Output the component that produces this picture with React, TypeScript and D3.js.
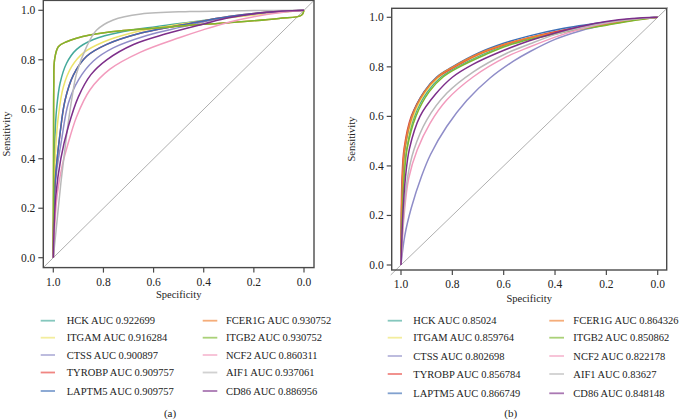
import * as d3 from 'd3';

// ROC curves: [specificity, sensitivity]
const genes = ["HCK", "ITGAM", "CTSS", "TYROBP", "LAPTM5", "FCER1G", "ITGB2", "NCF2", "AIF1", "CD86"];
const colors = ["#44a99a", "#ece36a", "#8f8dc8", "#e8453f", "#3d6eb5", "#f08132", "#7cb82f", "#f29bbd", "#b9b9b9", "#7d2f8a"];
const aucA = ["0.922699", "0.916284", "0.900897", "0.909757", "0.909757", "0.930752", "0.930752", "0.860311", "0.937061", "0.886956"];
const aucB = ["0.85024", "0.859764", "0.802698", "0.856784", "0.866749", "0.864326", "0.850862", "0.822178", "0.83627", "0.848148"];
const ticks = [1.0, 0.8, 0.6, 0.4, 0.2, 0.0];

// panel (a)
const hckA = [[1, 0], [0.998, 0.3], [0.993, 0.5], [0.987, 0.6], [0.973, 0.705], [0.947, 0.786], [0.907, 0.842], [0.84, 0.882], [0.72, 0.914], [0.59, 0.934], [0.455, 0.952], [0.3, 0.972], [0.15, 0.988], [0, 1]];
const itgamA = [[1, 0], [0.996, 0.3], [0.99, 0.45], [0.98, 0.57], [0.96, 0.69], [0.927, 0.772], [0.88, 0.828], [0.8, 0.872], [0.68, 0.91], [0.55, 0.935], [0.4, 0.958], [0.3, 0.97], [0.15, 0.986], [0, 1]];
const ctssA = [[1, 0], [0.992, 0.3], [0.967, 0.476], [0.94, 0.624], [0.9, 0.718], [0.84, 0.795], [0.761, 0.848], [0.627, 0.898], [0.5, 0.93], [0.4, 0.953], [0.3, 0.972], [0.15, 0.99], [0, 1]];
const tyrobpA = [[1, 0], [0.993, 0.3], [0.973, 0.503], [0.953, 0.637], [0.92, 0.738], [0.867, 0.814], [0.787, 0.862], [0.654, 0.907], [0.455, 0.947], [0.3, 0.975], [0.15, 0.992], [0, 1]];
const laptm5A = [[1, 0], [0.993, 0.3], [0.973, 0.503], [0.953, 0.637], [0.92, 0.738], [0.867, 0.814], [0.787, 0.862], [0.654, 0.907], [0.455, 0.947], [0.3, 0.975], [0.15, 0.992], [0, 1]];
const fcer1gA = [[1, 0], [0.999, 0.4], [0.998, 0.7], [0.995, 0.8], [0.98, 0.853], [0.947, 0.873], [0.854, 0.9], [0.721, 0.918], [0.588, 0.928], [0.455, 0.94], [0.3, 0.95], [0.1, 0.967], [0.01, 0.98], [0, 1]];
const itgb2A = [[1, 0], [0.999, 0.4], [0.998, 0.7], [0.995, 0.8], [0.98, 0.853], [0.947, 0.873], [0.854, 0.9], [0.721, 0.918], [0.588, 0.928], [0.455, 0.94], [0.3, 0.95], [0.1, 0.967], [0.01, 0.98], [0, 1]];
const ncf2A = [[1, 0], [0.985, 0.25], [0.965, 0.37], [0.947, 0.44], [0.907, 0.57], [0.854, 0.678], [0.774, 0.762], [0.654, 0.83], [0.495, 0.89], [0.4, 0.922], [0.3, 0.952], [0.2, 0.974], [0.1, 0.99], [0, 1]];
const aif1A = [[1, 0], [0.985, 0.15], [0.97, 0.3], [0.954, 0.435], [0.947, 0.495], [0.927, 0.637], [0.907, 0.745], [0.867, 0.853], [0.827, 0.92], [0.761, 0.961], [0.65, 0.985], [0.455, 0.995], [0.2, 0.999], [0, 1]];
const cd86A = [[1, 0], [0.99, 0.25], [0.97, 0.4], [0.94, 0.53], [0.9, 0.65], [0.85, 0.74], [0.787, 0.8], [0.68, 0.862], [0.55, 0.905], [0.4, 0.945], [0.3, 0.97], [0.15, 0.992], [0, 1]];

// panel (b)
const hckB = [[1, 0], [0.996, 0.2], [0.99, 0.35], [0.979, 0.47], [0.948, 0.6], [0.897, 0.7], [0.843, 0.76], [0.782, 0.8], [0.68, 0.852], [0.6, 0.885], [0.5, 0.915], [0.38, 0.945], [0.2, 0.977], [0.1, 0.991], [0, 1]];
const itgamB = [[1, 0], [0.997, 0.2], [0.992, 0.35], [0.982, 0.47], [0.952, 0.6], [0.903, 0.7], [0.85, 0.76], [0.79, 0.8], [0.69, 0.852], [0.6, 0.888], [0.5, 0.918], [0.38, 0.945], [0.2, 0.975], [0.1, 0.99], [0, 1]];
const ctssB = [[1, 0], [0.985, 0.12], [0.96, 0.23], [0.92, 0.358], [0.885, 0.446], [0.822, 0.559], [0.744, 0.664], [0.653, 0.755], [0.562, 0.823], [0.497, 0.862], [0.4, 0.911], [0.3, 0.946], [0.2, 0.971], [0.1, 0.991], [0, 1]];
const tyrobpB = [[1, 0], [0.999, 0.2], [0.996, 0.35], [0.988, 0.47], [0.96, 0.6], [0.91, 0.698], [0.86, 0.756], [0.8, 0.795], [0.7, 0.85], [0.6, 0.888], [0.5, 0.918], [0.38, 0.946], [0.2, 0.975], [0.1, 0.99], [0, 1]];
const laptm5B = [[1, 0], [0.998, 0.2], [0.994, 0.35], [0.985, 0.47], [0.958, 0.6], [0.91, 0.7], [0.86, 0.76], [0.8, 0.8], [0.7, 0.855], [0.6, 0.895], [0.5, 0.925], [0.38, 0.953], [0.2, 0.981], [0.1, 0.993], [0, 1]];
const fcer1gB = [[1, 0], [0.998, 0.2], [0.994, 0.35], [0.986, 0.47], [0.957, 0.6], [0.908, 0.7], [0.857, 0.76], [0.797, 0.8], [0.7, 0.852], [0.6, 0.89], [0.5, 0.918], [0.38, 0.94], [0.2, 0.97], [0.1, 0.987], [0, 1]];
const itgb2B = [[1, 0], [0.995, 0.2], [0.988, 0.35], [0.976, 0.47], [0.942, 0.6], [0.89, 0.7], [0.835, 0.76], [0.772, 0.8], [0.67, 0.85], [0.6, 0.88], [0.5, 0.91], [0.38, 0.937], [0.2, 0.968], [0.1, 0.986], [0, 1]];
const ncf2B = [[1, 0], [0.988, 0.2], [0.97, 0.35], [0.937, 0.464], [0.887, 0.572], [0.822, 0.666], [0.718, 0.76], [0.588, 0.841], [0.497, 0.881], [0.4, 0.92], [0.3, 0.953], [0.2, 0.977], [0.1, 0.992], [0, 1]];
const aif1B = [[1, 0], [0.99, 0.2], [0.975, 0.35], [0.95, 0.464], [0.9, 0.585], [0.822, 0.693], [0.718, 0.78], [0.588, 0.855], [0.497, 0.893], [0.4, 0.93], [0.3, 0.958], [0.2, 0.978], [0.1, 0.992], [0, 1]];
const cd86B = [[1, 0], [0.993, 0.2], [0.983, 0.35], [0.967, 0.47], [0.926, 0.6], [0.865, 0.69], [0.8, 0.758], [0.72, 0.81], [0.62, 0.858], [0.5, 0.905], [0.4, 0.937], [0.3, 0.963], [0.2, 0.983], [0.1, 0.995], [0, 1]];

const curvesA = [hckA, itgamA, ctssA, tyrobpA, laptm5A, fcer1gA, itgb2A, ncf2A, aif1A, cd86A];
const curvesB = [hckB, itgamB, ctssB, tyrobpB, laptm5B, fcer1gB, itgb2B, ncf2B, aif1B, cd86B];

const font = "'Liberation Serif', 'DejaVu Serif', serif";

const Panel = ({ box, xr, yr, curves, aucs, legend, label, ylabX, xlabY }: any) => {
	const x = d3.scaleLinear().domain([1, 0]).range(xr);
	const y = d3.scaleLinear().domain([0, 1]).range(yr);
	const line = d3.line<number[]>()
		.x(d => x(d[0]))
		.y(d => y(d[1]))
		.curve(d3.curveCatmullRom.alpha(0.5));
	return (
		<g fontFamily={font} fill="#222">
			<defs>
				<clipPath id={"clip" + label}>
					<rect x={box[0]} y={box[1]} width={box[2] - box[0]} height={box[3] - box[1]} />
				</clipPath>
			</defs>
			<g clipPath={`url(#clip${label})`}>
				<line x1={x(1.04)} y1={y(-0.04)} x2={x(-0.04)} y2={y(1.04)} stroke="#9a9a9a" strokeWidth={0.8} />
				{curves.map((c: number[][], i: number) => (
					<path key={genes[i]} d={line(c) as string} fill="none" stroke={colors[i]} strokeWidth={1.5} />
				))}
			</g>
			<rect x={box[0]} y={box[1]} width={box[2] - box[0]} height={box[3] - box[1]} fill="none" stroke="#4a4a4a" strokeWidth={1.4} />
			{ticks.map(t => (
				<g key={"x" + t}>
					<line x1={x(t)} x2={x(t)} y1={box[3]} y2={box[3] + 5} stroke="#4a4a4a" strokeWidth={1.2} />
					<text x={x(t)} y={box[3] + 18} textAnchor="middle" fontSize={11.5}>{t.toFixed(1)}</text>
				</g>
			))}
			{ticks.map(t => (
				<g key={"y" + t}>
					<line x1={box[0] - 5} x2={box[0]} y1={y(t)} y2={y(t)} stroke="#4a4a4a" strokeWidth={1.2} />
					<text x={box[0] - 8} y={y(t)} dy="0.35em" textAnchor="end" fontSize={11.5}>{t.toFixed(1)}</text>
				</g>
			))}
			<text x={(box[0] + box[2]) / 2} y={xlabY} textAnchor="middle" fontSize={10.5}>Specificity</text>
			<text transform={`translate(${ylabX},${(box[1] + box[3]) / 2}) rotate(-90)`} textAnchor="middle" fontSize={10.5}>Sensitivity</text>
			{genes.map((g, i) => {
				const col = i < 5 ? legend.cols[0] : legend.cols[1];
				const ry = legend.rows[i % 5];
				return (
					<g key={"l" + g}>
						<line x1={col[0]} x2={col[1]} y1={ry} y2={ry} stroke={colors[i]} strokeOpacity={0.65} strokeWidth={1.8} />
						<text x={col[2]} y={ry} dy="0.35em" fontSize={10.5}>{g + " AUC " + aucs[i]}</text>
					</g>
				);
			})}
			<text x={legend.cap[0]} y={legend.cap[1]} textAnchor="middle" fontSize={11}>{label}</text>
		</g>
	);
};

export default function App() {
	return (
		<svg width={680} height={420} style={{ position: 'absolute', left: 0, top: 0, background: '#fff' }}>
			<Panel
				box={[43.3, 0.4, 314, 267.6]} xr={[53.3, 304]} yr={[257.7, 10.3]}
				curves={curvesA} aucs={aucA} label="(a)" ylabX={10} xlabY={298}
				legend={{ rows: [320.7, 337.7, 355, 372.5, 391], cols: [[40.7, 55, 66.7], [202.7, 217.3, 226]], cap: [170, 417] }}
			/>
			<Panel
				box={[391.7, 8.3, 666.7, 270]} xr={[401, 657.7]} yr={[265, 17.3]}
				curves={curvesB} aucs={aucB} label="(b)" ylabX={355} xlabY={302}
				legend={{ rows: [320.7, 337.7, 356, 374, 393.3], cols: [[387.7, 402, 413.3], [549.3, 564, 573.3]], cap: [510.7, 417] }}
			/>
		</svg>
	);
}
